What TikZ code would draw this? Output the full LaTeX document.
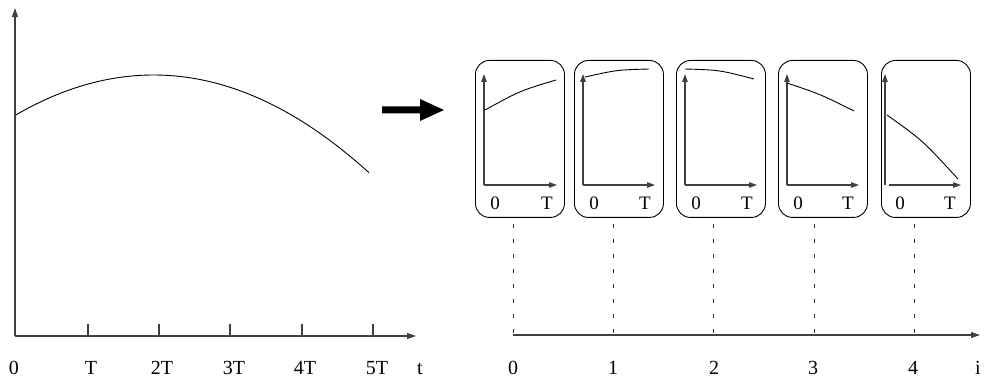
\documentclass[tikz,border=0pt]{standalone}
\usepackage{fontspec}
\setmainfont{Liberation Serif}
\usetikzlibrary{arrows.meta}
\begin{document}
\begin{tikzpicture}[x=1pt,y=-1pt,
  axis/.style={draw=black!75,line width=1.1pt,-{Triangle[length=9pt,width=6pt]}},
  saxis/.style={draw=black!75,line width=1.1pt,-{Triangle[length=8pt,width=5.5pt]}},
  tickline/.style={draw=black!75,line width=1.1pt},
  curve/.style={draw=black,line width=0.9pt},
  panel/.style={draw=black,line width=0.9pt,rounded corners=14pt,minimum width=89pt,minimum height=157pt,anchor=north west,inner sep=0pt},
  guide/.style={draw=black!80,line width=0.8pt,dash pattern=on 4pt off 11pt},
  lbl/.style={font=\fontsize{20}{20}\selectfont,anchor=base,inner sep=0pt},
  slbl/.style={font=\fontsize{19}{19}\selectfont,anchor=base,inner sep=0pt}]
\useasboundingbox (0,0) rectangle (994,379);

% ---------- left chart ----------
\coordinate (O) at (15,336);
\coordinate (Ytop) at (15,8);
\coordinate (Xend) at (416,336);
\draw[axis] (O) -- (Ytop);
\draw[axis] (O) -- (Xend);
\foreach \x/\n in {88/1,159/2,230/3,302/4,373/5}{
  \coordinate (tk\n) at (\x,324);
  \coordinate (tb\n) at (\x,336);
  \draw[tickline] (tk\n) -- (tb\n);
}
\draw[curve] plot[domain=16:369,samples=80,smooth] (\x,{75+0.00211*(\x-153.6)*(\x-153.6)});

\node[lbl] (l0) at (14,375) {0};
\node[lbl] (l1) at (91,375) {T};
\node[lbl] (l2) at (162,375) {2T};
\node[lbl] (l3) at (234,375) {3T};
\node[lbl] (l4) at (305,375) {4T};
\node[lbl] (l5) at (377,375) {5T};
\node[lbl] (lt) at (420,375) {t};

% ---------- big arrow ----------
\fill (382,106.5) -- (420,106.5) -- (420,99) -- (444,110) -- (420,121) -- (420,113.5) -- (382,113.5) -- cycle;

% ---------- panels ----------
% panel 1
\node[panel] (p1) at (475,60) {};
\coordinate (o1) at (484,185);
\coordinate (y1) at (484,74);
\coordinate (x1) at (557,185);
\draw[saxis] (o1) -- (y1);
\draw[saxis] (o1) -- (x1);
\draw[curve] (485,110) .. controls (520.5,90.6) .. (556,80);
\node[slbl] (z1) at (495,210) {0};
\node[slbl] (t1) at (547,210) {T};

% panel 2
\node[panel] (p2) at (574,60) {};
\coordinate (o2) at (583,185);
\coordinate (y2) at (583,74);
\coordinate (x2) at (655,185);
\draw[saxis] (o2) -- (y2);
\draw[saxis] (o2) -- (x2);
\draw[curve] (585,77) .. controls (617,69.9) .. (649,69);
\node[slbl] (z2) at (594,210) {0};
\node[slbl] (t2) at (645,210) {T};

% panel 3
\node[panel] (p3) at (676,60) {};
\coordinate (o3) at (685,185);
\coordinate (y3) at (685,74);
\coordinate (x3) at (757,185);
\draw[saxis] (o3) -- (y3);
\draw[saxis] (o3) -- (x3);
\draw[curve] (685,69) .. controls (719.5,70) .. (754,79);
\node[slbl] (z3) at (696,210) {0};
\node[slbl] (t3) at (747,210) {T};

% panel 4
\node[panel] (p4) at (778,60) {};
\coordinate (o4) at (787,185);
\coordinate (y4) at (787,74);
\coordinate (x4) at (859,185);
\draw[saxis] (o4) -- (y4);
\draw[saxis] (o4) -- (x4);
\draw[curve] (787,83) .. controls (820.5,94.3) .. (854,111);
\node[slbl] (z4) at (798,210) {0};
\node[slbl] (t4) at (848,210) {T};

% panel 5
\node[panel] (p5) at (881,60) {};
\coordinate (o5) at (885,185);
\coordinate (y5) at (885,74);
\coordinate (o5b) at (889,185);
\coordinate (x5) at (961,185);
\draw[saxis] (o5) -- (y5);
\draw[saxis] (o5b) -- (x5);
\draw[curve] (887,115) .. controls (922.5,140.3) .. (958,179);
\node[slbl] (z5) at (900,210) {0};
\node[slbl] (t5) at (950,210) {T};

% ---------- right axis ----------
\coordinate (R0) at (513,335);
\coordinate (Rend) at (980,335);
\draw[axis] (R0) -- (Rend);
\foreach \x/\n in {513/0,613/1,713/2,814/3,914/4}{
  \coordinate (gt\n) at (\x,224);
  \coordinate (gb\n) at (\x,335);
  \draw[guide] (gt\n) -- (gb\n);
}
\node[lbl] (i0) at (513,375) {0};
\node[lbl] (i1) at (613,375) {1};
\node[lbl] (i2) at (714,375) {2};
\node[lbl] (i3) at (813,375) {3};
\node[lbl] (i4) at (913,375) {4};
\node[lbl] (ii) at (978,375) {i};
\end{tikzpicture}
\end{document}
